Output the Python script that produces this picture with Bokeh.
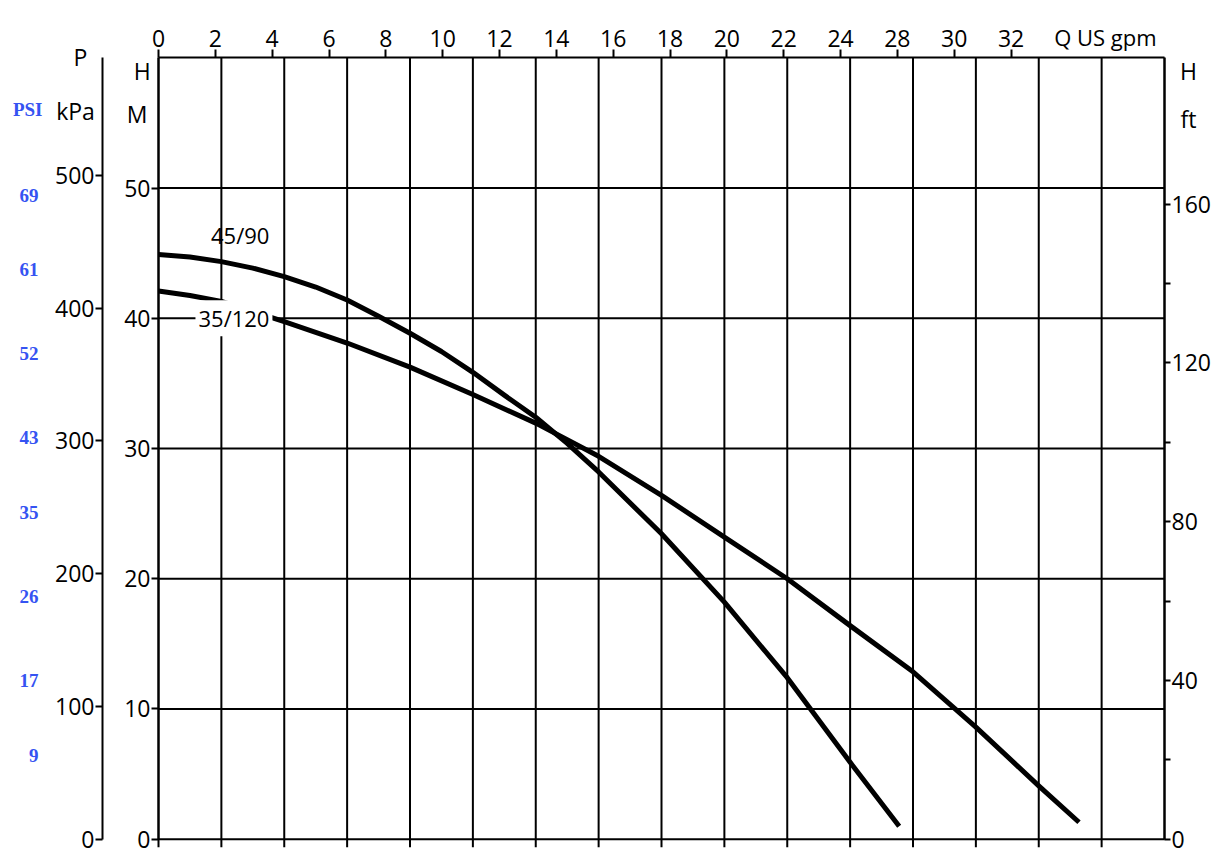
from bokeh.plotting import figure
from bokeh.models import Range1d, LinearAxis, FixedTicker, Label, ColumnDataSource
from bokeh.embed import file_html
from bokeh.resources import INLINE

# ---------------- data ----------------
# flow in m3/h (grid unit), head in m
FLOW_45_90 = [0.0, 0.25, 0.5, 0.75, 1.0, 1.25, 1.5, 1.75, 2.0, 2.25, 2.5, 2.75, 3.0, 3.25, 3.5,
              4.0, 4.5, 5.0, 5.5, 5.89]
HEAD_45_90 = [44.9, 44.7, 44.35, 43.85, 43.2, 42.4, 41.4, 40.15, 38.85, 37.45, 35.85, 34.1, 32.4, 30.4, 28.2,
              23.45, 18.2, 12.4, 5.9, 1.0]

FLOW_35_120 = [0.0, 0.25, 0.5, 1.0, 1.5, 2.0, 2.5, 3.0, 3.5, 4.0, 4.5, 5.0, 5.5, 6.0, 6.5, 7.0, 7.32]
HEAD_35_120 = [42.1, 41.75, 41.3, 39.75, 38.1, 36.25, 34.15, 31.95, 29.4, 26.4, 23.2, 20.0, 16.4, 12.85, 8.6, 4.1, 1.3]

CURVE_NAMES = ["45/90", "35/120"]

FLOW_GRID = [i * 0.5 for i in range(17)]          # m3/h grid lines
HEAD_M_TICKS = [0, 10, 20, 30, 40, 50]
KPA_TICKS = [0, 100, 200, 300, 400, 500]
FT_TICKS = [0, 40, 80, 120, 160]
FT_MINOR = [20, 60, 100, 140]
GPM_TICKS = [0, 2, 4, 6, 8, 10, 12, 14, 16, 18, 20, 22, 24, 26, 28, 30]
GPM_LABELS = ["0", "2", "4", "6", "8", "10", "12", "14", "16", "18", "20", "22", "24", "28", "30", "32"]
PSI_LABELS = [69, 61, 52, 43, 35, 26, 17, 9]

X_MAX = 8.0        # m3/h
Y_MAX = 60.0       # m
KPA_PER_M = 9.81
FT_PER_M = 1 / 0.3048
GPM_PER_M3H = 35.4 / 8.0
PSI_PER_M = 1 / 0.7167

# ---------------- layout ----------------
W, H = 1230, 858
X0_PX, X_PX = 158.0, 125.75      # screen x of flow 0 and px per m3/h
Y0_PX, Y_PX = 838.7, 13.023      # screen y of head 0 and px per m
XS, XE = -X0_PX / X_PX, (W - X0_PX) / X_PX
YS, YE = -(H - Y0_PX) / Y_PX, Y0_PX / Y_PX
STUB = 8 / Y_PX

FONT = "Open Sans"
SERIF = "Liberation Serif"
BLUE = "#3553f2"

p = figure(width=W, height=H, output_backend="svg", toolbar_location=None,
           x_range=Range1d(XS, XE), y_range=Range1d(YS, YE),
           x_axis_location=None, y_axis_location=None, min_border=0)
p.outline_line_color = None
p.background_fill_color = "white"
p.border_fill_color = "white"
p.xgrid.visible = False
p.ygrid.visible = False

p.extra_y_ranges = {"kpa": Range1d(YS * KPA_PER_M, YE * KPA_PER_M),
                    "ft": Range1d(YS * FT_PER_M, YE * FT_PER_M),
                    "psi": Range1d(YS * PSI_PER_M, YE * PSI_PER_M)}
p.extra_x_ranges = {"gpm": Range1d(XS * GPM_PER_M3H, XE * GPM_PER_M3H)}

# grid lines
vsrc = ColumnDataSource(dict(x=FLOW_GRID, y0=[-STUB if x < X_MAX else 0 for x in FLOW_GRID],
                             y1=[Y_MAX] * len(FLOW_GRID)))
p.segment(x0="x", x1="x", y0="y0", y1="y1", source=vsrc, line_color="black", line_width=2)
hsrc = ColumnDataSource(dict(y=HEAD_M_TICKS, x0=[0] * len(HEAD_M_TICKS), x1=[X_MAX] * len(HEAD_M_TICKS)))
p.segment(x0="x0", x1="x1", y0="y", y1="y", source=hsrc, line_color="black", line_width=2)


def style_axis(ax, tick_out=7, standoff=2, size="23px"):
    ax.axis_line_width = 2
    ax.axis_line_color = "black"
    ax.major_tick_line_width = 2
    ax.minor_tick_line_width = 2
    ax.major_tick_in = 0
    ax.major_tick_out = tick_out
    ax.minor_tick_in = 0
    ax.minor_tick_out = 0
    ax.major_label_text_font = FONT
    ax.major_label_text_font_size = size
    ax.major_label_text_color = "black"
    ax.major_label_standoff = standoff


# left: head in m (frame left edge)
m_axis = LinearAxis(ticker=FixedTicker(ticks=HEAD_M_TICKS), fixed_location=0, bounds=(0, Y_MAX))
style_axis(m_axis, 7, 1)
p.add_layout(m_axis, "left")

# left outer: pressure kPa
kpa_axis = LinearAxis(y_range_name="kpa", ticker=FixedTicker(ticks=KPA_TICKS),
                      fixed_location=(102 - X0_PX) / X_PX, bounds=(0, Y_MAX * KPA_PER_M))
style_axis(kpa_axis, 7, 1)
p.add_layout(kpa_axis, "left")

# right: head in ft (frame right edge)
ft_axis = LinearAxis(y_range_name="ft", ticker=FixedTicker(ticks=FT_TICKS, minor_ticks=FT_MINOR),
                     fixed_location=X_MAX, bounds=(0, Y_MAX * FT_PER_M))
style_axis(ft_axis, 6, 1)
ft_axis.minor_tick_out = 6
p.add_layout(ft_axis, "right")

# top: flow in US gpm (frame top edge)
gpm_axis = LinearAxis(x_range_name="gpm", ticker=FixedTicker(ticks=GPM_TICKS), fixed_location=Y_MAX,
                      bounds=(0, X_MAX * GPM_PER_M3H),
                      major_label_overrides={t: l for t, l in zip(GPM_TICKS, GPM_LABELS)})
style_axis(gpm_axis, 8, 3, "23px")
p.add_layout(gpm_axis, "above")

# curves
for fx, hy in [(FLOW_45_90, HEAD_45_90), (FLOW_35_120, HEAD_35_120)]:
    src = ColumnDataSource(dict(x=fx, y=hy))
    p.line("x", "y", source=src, line_color="black", line_width=5, line_join="round")


def lab(text, x, y, size="23px", font=FONT, color="black", align="center", **kw):
    p.add_layout(Label(x=x, y=y, text=text, text_align=align, text_baseline="middle",
                       text_font=font, text_font_size=size, text_color=color, **kw))


# curve names
lab(CURVE_NAMES[0], 0.65, 46.4, size="22px")
lab(CURVE_NAMES[1], 0.6, 40.0, size="22px", background_fill_color="white", padding=3)

# headers
lab("P", -0.62, 60.1)
lab("kPa", -0.66, 55.9)
lab("H", -0.13, 59.0)
lab("M", -0.17, 55.7)
lab("H", 8.19, 59.0)
lab("ft", 8.19, 55.3)
lab("Q US gpm", 7.53, 61.6, size="22px")
lab("PSI", -1.04, 56.05, size="19px", font=SERIF, color=BLUE, text_font_style="bold")
for v in PSI_LABELS:
    p.add_layout(Label(x=-0.955, y=v, y_range_name="psi", text=str(v), text_align="right",
                       text_baseline="middle", text_font=SERIF, text_font_style="bold",
                       text_font_size="19px", text_color=BLUE))

open("out.html", "w").write(file_html(p, INLINE))
